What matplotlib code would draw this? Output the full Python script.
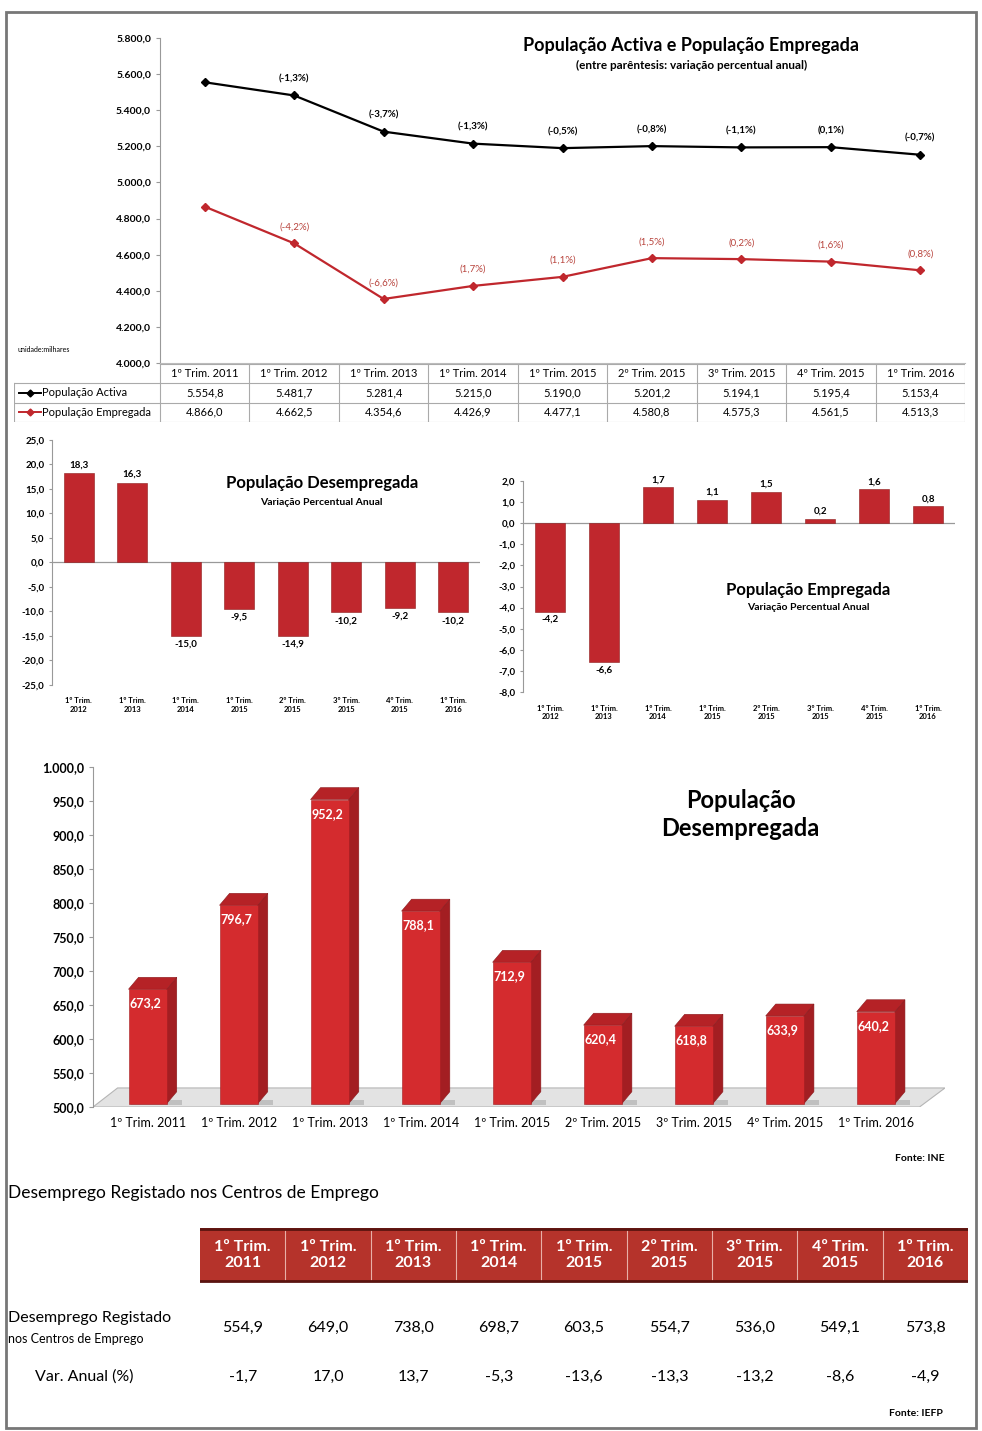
import numpy as np
import matplotlib
matplotlib.use('Agg')
import matplotlib.pyplot as plt
from matplotlib.patches import Rectangle, Polygon

plt.rcParams['font.family'] = ['Lato', 'DejaVu Sans']

# dados
trimestres = ['1º Trim. 2011', '1º Trim. 2012', '1º Trim. 2013', '1º Trim. 2014',
              '1º Trim. 2015', '2º Trim. 2015', '3º Trim. 2015', '4º Trim. 2015',
              '1º Trim. 2016']
pop_activa = [5554.8, 5481.7, 5281.4, 5215.0, 5190.0, 5201.2, 5194.1, 5195.4, 5153.4]
pop_empregada = [4866.0, 4662.5, 4354.6, 4426.9, 4477.1, 4580.8, 4575.3, 4561.5, 4513.3]
var_activa = [None, -1.3, -3.7, -1.3, -0.5, -0.8, -1.1, 0.1, -0.7]
var_empregada = [None, -4.2, -6.6, 1.7, 1.1, 1.5, 0.2, 1.6, 0.8]
var_desempregada = [None, 18.3, 16.3, -15.0, -9.5, -14.9, -10.2, -9.2, -10.2]
pop_desempregada = [673.2, 796.7, 952.2, 788.1, 712.9, 620.4, 618.8, 633.9, 640.2]
desemp_registado = [554.9, 649.0, 738.0, 698.7, 603.5, 554.7, 536.0, 549.1, 573.8]
var_registado = [-1.7, 17.0, 13.7, -5.3, -13.6, -13.3, -13.2, -8.6, -4.9]

W, H = 982, 1431
RED = '#c0272d'
RED_TXT = '#b8433c'


def fmt(v, dec=1):
    s = f"{float(v):,.{dec}f}"
    return s.replace(',', 'X').replace('.', ',').replace('X', '.')


def px_axes(fig, left, top, right, bottom):
    return fig.add_axes([left / W, 1 - bottom / H, (right - left) / W, (bottom - top) / H])


def short_label(t):
    a, b, c = t.split(' ')
    return a + ' ' + b + '\n' + c


fig = plt.figure(figsize=(W / 100, H / 100), dpi=100)
fig.patches.append(Rectangle((6 / W, 1 - 1428 / H), 970 / W, 1416 / H, transform=fig.transFigure,
                             fill=False, edgecolor='#777777', lw=2))

# ---------- grafico de linhas ----------
ax = px_axes(fig, 160, 38, 965, 363)
x = np.arange(len(trimestres))
ax.plot(x, pop_activa, color='black', lw=1.6, marker='D', ms=4)
ax.plot(x, pop_empregada, color=RED, lw=1.6, marker='D', ms=4)
for i in range(1, len(x)):
    ax.annotate(f"({fmt(var_activa[i])}%)", (x[i], pop_activa[i]), xytext=(0, 10),
                textcoords='offset points', ha='center', fontsize=7, fontweight='bold')
    ax.annotate(f"({fmt(var_empregada[i])}%)", (x[i], pop_empregada[i]), xytext=(0, 10),
                textcoords='offset points', ha='center', fontsize=7, color=RED_TXT)
ax.set_xlim(-0.5, 8.5)
ax.set_ylim(4000, 5800)
ax.set_yticks(np.arange(4000, 5801, 200))
ax.set_yticklabels([fmt(v) for v in np.arange(4000, 5801, 200)], fontsize=7.5, fontweight='bold')
ax.set_xticks([])
for s in ['top', 'right']:
    ax.spines[s].set_visible(False)
ax.spines['left'].set_color('#999999')
ax.spines['bottom'].set_color('#bbbbbb')
ax.tick_params(axis='y', length=3, color='#999999')
ax.text(0.66, 0.96, 'População Activa e População Empregada', transform=ax.transAxes,
        ha='center', fontsize=13, fontweight='bold')
ax.text(0.66, 0.905, '(entre parêntesis: variação percentual anual)', transform=ax.transAxes,
        ha='center', fontsize=8.5, fontweight='bold')
fig.text(18 / W, 1 - 352 / H, 'unidade:milhares', fontsize=5)

# tabela de dados
tb = px_axes(fig, 14, 364, 965, 422)
left_edge = -0.5 - 146 / 89.44
tb.set_xlim(left_edge, 8.5)
tb.set_ylim(3, 0)
tb.axis('off')
gc = '#aaaaaa'
tb.plot([-0.5, 8.5], [0, 0], color=gc, lw=0.8)
for yv in [1, 2, 3]:
    tb.plot([left_edge, 8.5], [yv, yv], color=gc, lw=0.8)
for xv in np.arange(-0.5, 9.0, 1):
    tb.plot([xv, xv], [0, 3], color=gc, lw=0.8)
tb.plot([left_edge, left_edge], [1, 3], color=gc, lw=0.8)
for i, t in enumerate(trimestres):
    tb.text(i, 0.5, t, ha='center', va='center', fontsize=8)
    tb.text(i, 1.5, fmt(pop_activa[i]), ha='center', va='center', fontsize=8)
    tb.text(i, 2.5, fmt(pop_empregada[i]), ha='center', va='center', fontsize=8)
for row, col in [(1.5, 'black'), (2.5, RED)]:
    tb.plot([left_edge + 0.06, left_edge + 0.3], [row, row], color=col, lw=1.4)
    tb.plot([left_edge + 0.18], [row], color=col, marker='D', ms=3.5)
tb.text(left_edge + 0.31, 1.5, 'População Activa', va='center', fontsize=8)
tb.text(left_edge + 0.31, 2.5, 'População Empregada', va='center', fontsize=8)


# ---------- barras variacao ----------
def var_bars(ax, vals, labels, ylim, step, title, title_pos):
    xs = np.arange(len(vals))
    ax.bar(xs, vals, width=0.56, color=RED, edgecolor='#8e1c1c', lw=0.4, zorder=2)
    rng = ylim[1] - ylim[0]
    for xi, v in zip(xs, vals):
        off = rng * 0.015
        ax.text(xi, v + off if v >= 0 else v - off, fmt(v), ha='center',
                va='bottom' if v >= 0 else 'top', fontsize=7, fontweight='bold')
    ax.axhline(0, color='#999999', lw=0.9, zorder=1)
    ax.set_xlim(-0.5, len(vals) - 0.5)
    ax.set_ylim(*ylim)
    ticks = np.arange(ylim[0], ylim[1] + step / 2, step)
    ax.set_yticks(ticks)
    ax.set_yticklabels([fmt(t) for t in ticks], fontsize=7, fontweight='bold')
    ax.set_xticks(xs)
    ax.set_xticklabels([short_label(l) for l in labels], fontsize=5.5, fontweight='bold')
    ax.tick_params(axis='x', length=0, pad=9)
    ax.tick_params(axis='y', length=2, color='#999999')
    for s in ['top', 'right', 'bottom']:
        ax.spines[s].set_visible(False)
    ax.spines['left'].set_color('#999999')
    ax.text(title_pos[0], title_pos[1], title, transform=ax.transAxes, ha='center',
            fontsize=12, fontweight='bold')
    ax.text(title_pos[0], title_pos[1] - 0.07, 'Variação Percentual Anual', transform=ax.transAxes,
            ha='center', fontsize=7.5, fontweight='bold')


ax2 = px_axes(fig, 52, 440, 480, 685)
var_bars(ax2, var_desempregada[1:], trimestres[1:], (-25, 25), 5, 'População Desempregada',
         (0.63, 0.805))
ax3 = px_axes(fig, 523, 481, 955, 692)
var_bars(ax3, var_empregada[1:], trimestres[1:], (-8, 2), 1, 'População Empregada', (0.66, 0.46))

# ---------- barras 3D ----------
ax4 = px_axes(fig, 93, 767, 945, 1107)
ax4.set_xlim(-0.6, 8.76)
ax4.set_ylim(500, 1000)
dx, dy, bw = 0.11, 17.5, 0.42
floor_y = 505
ax4.add_patch(Polygon([(-0.6, 500), (8.48, 500), (8.76, 528), (-0.33, 528)], closed=True,
                      facecolor='#e3e3e3', edgecolor='#b5b5b5', lw=0.8, zorder=1))
xs = np.arange(len(pop_desempregada))
for xi, v in zip(xs, pop_desempregada):
    x0, x1 = xi - bw / 2, xi + bw / 2
    ax4.add_patch(Polygon([(x0 + 0.03, floor_y - 2), (x1 + dx + 0.06, floor_y - 2),
                           (x1 + dx + 0.06, floor_y + 6), (x0 + 0.03, floor_y + 6)],
                          facecolor='#a9a9a9', edgecolor='none', alpha=0.6, zorder=2))
    ax4.add_patch(Polygon([(x1, floor_y), (x1 + dx, floor_y + dy), (x1 + dx, v + dy), (x1, v)],
                          facecolor='#a31e22', edgecolor='#8a1a1d', lw=0.4, zorder=3))
    ax4.add_patch(Polygon([(x0, v), (x1, v), (x1 + dx, v + dy), (x0 + dx, v + dy)],
                          facecolor='#b52226', edgecolor='#8a1a1d', lw=0.4, zorder=3))
    ax4.bar(xi, v - floor_y, bottom=floor_y, width=bw, color='#d42b2e', edgecolor='#a31e22',
            lw=0.4, zorder=4)
    ax4.text(x0 + 0.01, v - 12, fmt(v), ha='left', va='top', color='white', fontsize=9,
             fontweight='bold', zorder=5)
ax4.set_yticks(np.arange(500, 1001, 50))
ax4.set_yticklabels([fmt(t) for t in np.arange(500, 1001, 50)], fontsize=9, fontweight='bold')
ax4.set_xticks(xs)
ax4.set_xticklabels(trimestres, fontsize=9)
ax4.tick_params(axis='x', length=0, pad=7)
ax4.tick_params(axis='y', length=3, color='#999999')
for s in ['top', 'right', 'bottom']:
    ax4.spines[s].set_visible(False)
ax4.spines['left'].set_color('#999999')
ax4.text(0.76, 0.86, 'População\nDesempregada', transform=ax4.transAxes, ha='center',
         va='center', fontsize=17, fontweight='bold', linespacing=1.3)
fig.text(945 / W, 1 - 1161 / H, 'Fonte: INE', ha='right', fontsize=7.5, fontweight='bold')

# ---------- tabela desemprego registado ----------
fig.text(8 / W, 1 - 1198 / H, 'Desemprego Registado nos Centros de Emprego', fontsize=12.5)
t5 = px_axes(fig, 200, 1228, 968, 1395)
t5.set_xlim(-0.5, 8.5)
t5.set_ylim(1395, 1228)
t5.axis('off')
t5.add_patch(Rectangle((-0.5, 1228), 9, 54, facecolor='#b5332b', edgecolor='none'))
t5.plot([-0.5, 8.5], [1229, 1229], color='#5a1410', lw=2)
t5.plot([-0.5, 8.5], [1281, 1281], color='#5a1410', lw=2)
for xv in np.arange(0.5, 8.0, 1):
    t5.plot([xv, xv], [1231, 1279], color='#e8b0a8', lw=0.8)
for i, t in enumerate(trimestres):
    t5.text(i, 1255, short_label(t), ha='center', va='center', color='white', fontsize=11.5,
            fontweight='bold', linespacing=1.25)
    t5.text(i, 1328, fmt(desemp_registado[i]), ha='center', va='center', fontsize=11.5)
    t5.text(i, 1377, fmt(var_registado[i]), ha='center', va='center', fontsize=11.5)
fig.text(8 / W, 1 - 1322 / H, 'Desemprego Registado', fontsize=11.5)
fig.text(8 / W, 1 - 1343 / H, 'nos Centros de Emprego', fontsize=9)
fig.text(35 / W, 1 - 1381 / H, 'Var. Anual (%)', fontsize=11.5)
fig.text(943 / W, 1 - 1416 / H, 'Fonte: IEFP', ha='right', fontsize=7.5, fontweight='bold')

fig.savefig('out.png', dpi=100)
